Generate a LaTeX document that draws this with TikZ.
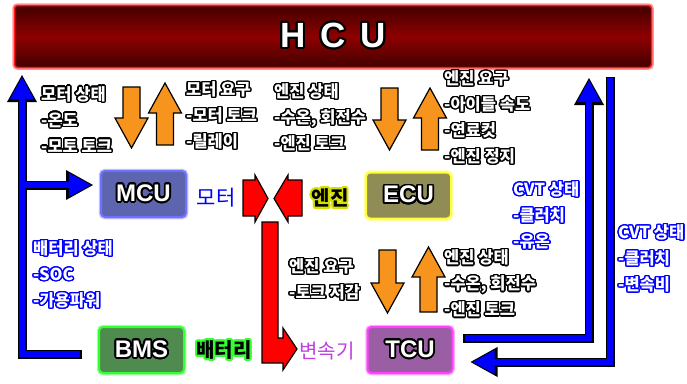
\documentclass[tikz,border=0pt]{standalone}
\usepackage{fontspec}
\setmainfont{Noto Sans CJK KR}
\newfontfamily\latfont{Liberation Sans}
\usepackage[copies]{contour}
\usetikzlibrary{arrows.meta,calc,positioning}
\contourlength{1.4pt}
\contournumber{24}

\definecolor{hcudark}{HTML}{420000}
\definecolor{hcumid}{HTML}{8E0000}
\definecolor{hcuedge}{HTML}{FF1A1A}
\definecolor{mcufill}{HTML}{5C65AD}
\definecolor{mcuedge}{HTML}{7070FF}
\definecolor{ecufill}{HTML}{8F8C56}
\definecolor{ecuedge}{HTML}{FFFF33}
\definecolor{bmsfill}{HTML}{4F8A4F}
\definecolor{bmsedge}{HTML}{33FF33}
\definecolor{tcufill}{HTML}{9A5EA4}
\definecolor{tcuedge}{HTML}{FF40FF}
\definecolor{linkblue}{HTML}{0000FF}
\definecolor{flowora}{HTML}{F7941E}
\definecolor{transpurple}{HTML}{C040E0}
\definecolor{engglow}{HTML}{D4E000}

\newcommand\darklab[1]{\contour{black}{#1}}
\newcommand\bluelab[1]{\contour{linkblue}{#1}}
\newcommand\boxlab[1]{{\contourlength{1.8pt}\contour{black}{#1}}}
% block arrows: x, start, tip
\newcommand\orangedown[3]{\draw[orangeblk] (#1-8.5,#2) -- (#1+8.5,#2) -- (#1+8.5,#3-30) -- (#1+16.5,#3-30) -- (#1,#3) -- (#1-16.5,#3-30) -- (#1-8.5,#3-30) -- cycle;}
\newcommand\orangeup[3]{\draw[orangeblk] (#1-8.5,#2) -- (#1+8.5,#2) -- (#1+8.5,#3+30) -- (#1+16.5,#3+30) -- (#1,#3) -- (#1-16.5,#3+30) -- (#1-8.5,#3+30) -- cycle;}

\tikzset{
  unitbox/.style={rounded corners=4pt, minimum width=85pt, minimum height=46pt, line width=2pt,
    text=white, font=\latfont\bfseries\fontsize{24}{24}\selectfont},
  glow/.style={preaction={draw=#1!45, line width=4.5pt}},
  infolabel/.style={anchor=west, inner sep=0pt, align=left, text=white,
    font=\bfseries\fontsize{16.5}{26}\selectfont},
  orangeblk/.style={fill=flowora, draw=black, line width=1.2pt, line join=miter},
  redblk/.style={fill=red, draw=black, line width=1.2pt, line join=miter},
  blueout/.style={line width=9pt, black, line cap=rect, line join=miter,
    -{Triangle[length=27pt,width=30pt,line width=0pt]}},
  bluein/.style={line width=6pt, linkblue, line cap=rect, line join=miter, shorten >=2.2pt,
    -{Triangle[length=22pt,width=24pt,line width=0pt]}},
}

\begin{document}
\begin{tikzpicture}[x=1pt,y=-1pt]
  \fill[white] (0,0) rectangle (687,383);
  \useasboundingbox (0,0) rectangle (687,383);

  % Units
  \node[draw=hcuedge, line width=1.5pt, rounded corners=3pt, minimum width=637pt, minimum height=62pt,
    glow=hcuedge, top color=hcudark, bottom color=hcudark, middle color=hcumid, text=white,
    font=\latfont\bfseries\fontsize{35}{35}\selectfont] (hcu) at (333,36.5)
    {{\contourlength{2pt}\contour{black}{H\kern15pt C\kern15pt U}}};

  \node[unitbox, glow=mcuedge, fill=mcufill, draw=mcuedge] (mcu) at (143.5,194) {\boxlab{MCU}};
  \node[unitbox, glow=ecuedge, fill=ecufill, draw=ecuedge] (ecu) at (408.5,195.5) {\boxlab{ECU}};
  \node[unitbox, glow=bmsedge, fill=bmsfill, draw=bmsedge] (bms) at (141.5,350) {\boxlab{BMS}};
  \node[unitbox, glow=tcuedge, fill=tcufill, draw=tcuedge] (tcu) at (410,350) {\boxlab{TCU}};

  \node[text=linkblue, font=\fontsize{21}{21}\selectfont] (motor) at (216,198) {모터};
  \node[font=\bfseries\fontsize{20}{20}\selectfont] (engine) at (330,199) {{\contourlength{2pt}\contour{engglow}{엔진}}};
  \node[font=\bfseries\fontsize{20}{20}\selectfont] (battery) at (224,351) {{\contourlength{2pt}\contour{bmsedge}{배터리}}};
  \node[text=transpurple, font=\fontsize{20}{20}\selectfont] (trans) at (327,351) {변속기};

  % Signal labels
  \node[infolabel] (motorstate) at (41,120) {\darklab{모터 상태}\\\darklab{-온도}\\\darklab{-모토 토크}};
  \node[infolabel] (motorreq) at (186,116) {\darklab{모터 요구}\\\darklab{-모터 토크}\\\darklab{-릴레이}};
  \node[infolabel] (engstate) at (274,118) {\darklab{엔진 상태}\\\darklab{-수온, 회전수}\\\darklab{-엔진 토크}};
  \node[infolabel] (engreq) at (444,118) {\darklab{엔진 요구}\\\darklab{-아이들 속도}\\\darklab{-연료컷}\\\darklab{-엔진 정지}};
  \node[infolabel] (cvtstate) at (513,216) {\bluelab{CVT 상태}\\\bluelab{-클러치}\\\bluelab{-유온}};
  \node[infolabel] (cvtratio) at (618,259) {\bluelab{CVT 상태}\\\bluelab{-클러치}\\\bluelab{-변속비}};
  \node[infolabel] (battstate) at (33,275) {\bluelab{배터리 상태}\\\bluelab{-SOC}\\\bluelab{-가용파워}};
  \node[infolabel] (torquereq) at (289,280) {\darklab{엔진 요구}\\\darklab{-토크 저감}};
  \node[infolabel] (tcustate) at (444,284) {\darklab{엔진 상태}\\\darklab{-수온, 회전수}\\\darklab{-엔진 토크}};

  % Request / status flows
  \orangedown{131.5}{87}{148}
  \orangeup{165}{145}{83}
  \orangedown{389.5}{88}{150}
  \orangeup{430}{150}{88}
  \orangedown{387.5}{250}{313}
  \orangeup{428.5}{312}{247}

  % Power flow
  \draw[redblk] (243,180) -- (255,180) -- (255,175) -- (268,198.5) -- (255,222) -- (255,216) -- (243,216) -- cycle;
  \draw[redblk] (302,180) -- (288,180) -- (288,175) -- (274,198.5) -- (288,222) -- (288,216) -- (302,216) -- cycle;
  \draw[redblk] (262,222) -- (278,222) -- (278,338) -- (283,338) -- (283,328) -- (297,349) -- (283,370) -- (283,363) -- (262,363) -- cycle;

  % CAN links
  \coordinate (hculeft) at (22,75);
  \coordinate (mcuin) at ($(mcu.west)+(-7,-9)$);
  \coordinate (hcuright) at (589,78);
  \coordinate (hcuout) at (610,81);
  \coordinate (tcuin) at ($(tcu.east)+(17,12)$);

  % outlines first, then fill
  \draw[blueout] ($(bms.west)+(-21,4)$) -| (hculeft);
  \draw[blueout] (hculeft |- mcuin) -- (mcuin);
  \draw[blueout] ($(tcu.east)+(14,-12)$) -| (hcuright);
  \draw[blueout] (hcuout) |- (tcuin);
  \draw[bluein] ($(bms.west)+(-21,4)$) -| (hculeft);
  \draw[bluein] (hculeft |- mcuin) -- (mcuin);
  \draw[bluein] ($(tcu.east)+(14,-12)$) -| (hcuright);
  \draw[bluein] (hcuout) |- (tcuin);
\end{tikzpicture}
\end{document}
